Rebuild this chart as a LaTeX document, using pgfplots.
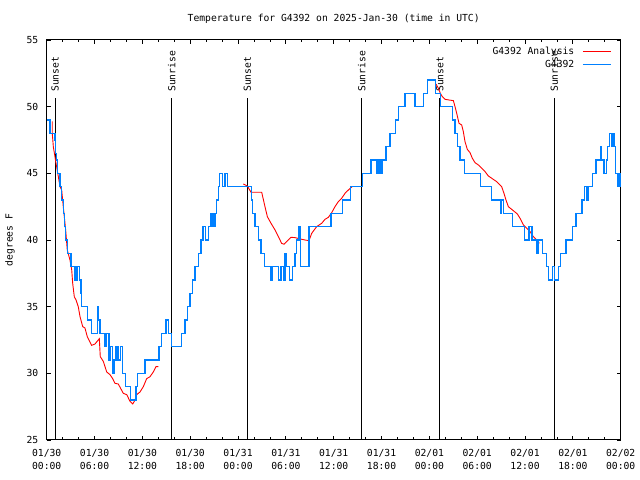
\documentclass[border=0pt]{standalone}
\usepackage{fontspec}
\setmainfont{DejaVu Sans Mono}
\usepackage{pgfplots}
\pgfplotsset{compat=1.18}
\definecolor{obsblue}{RGB}{0,128,255}
\definecolor{anared}{RGB}{255,0,0}
\newcommand\myfont{\fontsize{9.7bp}{12.5bp}\selectfont}
\begin{document}
\myfont
\begin{tikzpicture}
\begin{axis}[
  scale only axis, width=574bp, height=400bp,
  xmin=0, xmax=72, ymin=25, ymax=55,
  xtick={0,6,...,72},
  xticklabels={{01/30\\00:00},{01/30\\06:00},{01/30\\12:00},{01/30\\18:00},{01/31\\00:00},{01/31\\06:00},{01/31\\12:00},{01/31\\18:00},{02/01\\00:00},{02/01\\06:00},{02/01\\12:00},{02/01\\18:00},{02/02\\00:00}},
  minor x tick num=2,
  ytick={25,30,...,55},
  tick align=inside,
  major tick length=4bp, minor tick length=2.5bp,
  every tick/.style={black, line width=0.8bp},
  axis line style={line width=1bp},
  every tick label/.append style={font=\myfont},
  xticklabel style={align=center, yshift=-6bp},
  yticklabel style={xshift=-5bp},
  /pgf/number format/assume math mode=true,
  clip=false,
  unbounded coords=jump,
  legend style={at={(rel axis cs:1,1)}, anchor=north east, draw=none, fill=none, font=\myfont, xshift=-6bp, yshift=-2.5bp, row sep=1bp},
  legend cell align=right,
  legend plot pos=right,
  legend image code/.code={\path (0bp,0bp) (34bp,0bp); \draw[#1] (6bp,0bp) -- (34bp,0bp);},
]
\coordinate (SW) at (rel axis cs:0,0);
\coordinate (ML) at (rel axis cs:0,0.5);
\coordinate (TC) at (rel axis cs:0.5,1);

% sunrise / sunset lines
\draw[black, line width=0.9bp] (axis cs:1.04,25) -- (axis cs:1.04,50.65);
\draw[black, line width=0.9bp] (axis cs:15.68,25) -- (axis cs:15.68,50.65);
\draw[black, line width=0.9bp] (axis cs:25.17,25) -- (axis cs:25.17,50.65);
\draw[black, line width=0.9bp] (axis cs:39.51,25) -- (axis cs:39.51,50.65);
\draw[black, line width=0.9bp] (axis cs:49.3,25) -- (axis cs:49.3,50.65);
\draw[black, line width=0.9bp] (axis cs:63.67,25) -- (axis cs:63.67,50.65);
\node[rotate=90, anchor=west, font=\myfont, inner sep=2bp] at (axis cs:1.04,50.95) {Sunset};
\node[rotate=90, anchor=west, font=\myfont, inner sep=2bp] at (axis cs:15.68,50.95) {Sunrise};
\node[rotate=90, anchor=west, font=\myfont, inner sep=2bp] at (axis cs:25.17,50.95) {Sunset};
\node[rotate=90, anchor=west, font=\myfont, inner sep=2bp] at (axis cs:39.51,50.95) {Sunrise};
\node[rotate=90, anchor=west, font=\myfont, inner sep=2bp] at (axis cs:49.3,50.95) {Sunset};
\node[rotate=90, anchor=west, font=\myfont, inner sep=2bp] at (axis cs:63.67,50.95) {Sunrise};

\addplot[anared, line width=0.9bp] coordinates {
(0.70,48.9) (0.70,48.0) (0.83,47) (1.17,45.75) (1.46,44.75) (1.67,44) (1.88,43.75) (2.08,42.5) (2.38,40.75) (2.58,39.25) (2.92,38.5) (3.14,37.75) (3.26,36.75) (3.46,35.75) (3.68,35.5) (3.96,35) (4.18,34.25) (4.52,33.5) (4.80,33.4) (5.09,32.75) (5.64,32.1) (6.06,32.2) (6.60,32.6) (6.72,31.25) (7.10,30.9) (7.53,30.1) (7.94,29.9) (8.28,29.6) (8.57,29.25) (8.98,29.2) (9.61,28.5) (10.04,28.4) (10.45,27.9) (10.79,27.7) (11.08,28.0) (11.29,28.4) (11.70,28.6) (12.12,29.0) (12.54,29.6) (12.96,29.75) (13.37,30.1) (13.71,30.5) (14.0,30.5)
(14.5,nan)
(24.67,44.2) (25.17,44.05) (25.63,43.58) (26.97,43.58) (27.38,42.5) (27.68,41.75) (28.14,41.25) (28.64,40.75) (29.06,40.25) (29.47,39.75) (29.77,39.68) (30.1,39.88) (30.64,40.2) (31.15,40.18) (31.77,40.08) (32.4,40.0) (32.9,39.95) (33.24,40.5) (33.86,41.0) (34.49,41.25) (34.91,41.55) (35.33,41.7) (35.75,42.05) (36.16,42.5) (36.58,42.88) (37.0,43.13) (37.42,43.5) (37.84,43.75) (38.3,44.0)
(40,nan)
(48.83,51.7) (49.13,51.38) (49.38,51.0) (49.63,50.75) (49.96,50.55) (51.01,50.45) (51.22,50.0) (51.43,49.5) (51.72,48.75) (52.05,48.63) (52.26,48.13) (52.47,47.38) (52.76,46.8) (53.1,46.55) (53.39,46.13) (53.73,45.8) (54.14,45.63) (54.56,45.38) (54.98,45.13) (55.4,44.8) (55.82,44.63) (56.44,44.38) (57.07,44.0) (57.36,43.5) (57.61,43.0) (57.91,42.5) (58.53,42.2) (59.04,41.95) (59.37,41.63) (59.79,41.13) (60.21,40.88) (60.63,40.63) (61.04,40.25) (61.46,40.0) (61.8,39.75)
};
\addlegendentry{G4392 Analysis}

\addplot[obsblue, line width=1.2bp, const plot] coordinates {
(0.08,49) (0.41,48) (1.04,47.5) (1.12,46.5) (1.21,46) (1.38,45) (1.67,44) (1.88,43) (2.09,42) (2.25,41) (2.38,40) (2.59,39) (3.05,38) (3.47,37) (3.59,38) (3.76,37) (3.84,38) (4.09,37) (4.30,36) (4.39,35) (5.14,34) (5.64,33) (6.35,35) (6.48,34) (6.69,33) (7.31,32) (7.52,33) (7.81,31) (8.02,32) (8.28,30) (8.44,31) (8.69,32) (8.94,31) (9.28,32) (9.53,30) (9.86,29) (10.53,28) (11.2,29) (11.37,30) (12.33,31) (14.09,32) (14.42,33) (14.96,34) (15.3,33) (15.68,32)
(16.93,33) (17.35,34) (17.64,35) (17.98,36) (18.27,37) (18.6,38) (19.02,39) (19.36,40) (19.6,41) (19.9,40) (20.3,41) (20.6,42) (20.85,41) (21.1,42) (21.3,43) (21.5,44) (21.66,45) (22.03,44) (22.37,45) (22.66,44)
(25.71,43) (25.84,42) (26.13,41) (26.55,40) (26.88,39) (27.3,38) (28.14,37) (28.3,38) (29.06,37) (29.39,38) (29.68,37) (29.89,39) (30.1,38) (30.44,37) (30.85,38) (31.15,39) (31.36,40) (31.65,41) (31.82,38) (32.9,41) (35.66,42) (37.08,43) (38.13,44) (39.59,45)
(40.68,46) (41.35,45) (41.52,46) (41.68,45) (41.85,46) (42.02,45) (42.14,46) (42.56,47) (43.06,48) (43.77,49) (44.11,50) (44.94,51) (46.2,50) (47.24,51) (47.79,52) (48.79,51) (49.42,50) (50.93,49) (51.22,48) (51.55,47) (51.84,46) (52.39,45) (54.44,44) (55.82,43)
(56.9,42) (57.03,43) (57.25,42) (58.41,41) (59.92,40) (60.5,41) (60.88,40) (61.46,39) (61.63,40) (62.21,39) (62.71,38) (62.97,37) (63.43,38) (63.72,37) (64.18,38) (64.47,39) (65.14,40) (65.97,41) (66.39,42) (67.15,43) (67.48,44) (67.69,43) (67.9,44) (68.48,45) (68.9,46) (69.44,47) (69.61,46) (69.9,45) (70.2,46) (70.36,47) (70.62,48) (70.82,47) (71.0,48) (71.17,47) (71.38,45) (71.67,44) (71.88,45) (72.0,44)
};
\addlegendentry{G4392}
\end{axis}
\node[anchor=base, font=\myfont] at ([yshift=18.5bp]TC) {Temperature for G4392 on 2025-Jan-30 (time in UTC)};
\node[rotate=90, font=\myfont] at ([xshift=-36.7bp]ML) {degrees F};
\pgfresetboundingbox
\path[use as bounding box] ([shift={(-46.7bp,-40bp)}]SW) rectangle ++(640bp,480bp);
\end{tikzpicture}
\end{document}
